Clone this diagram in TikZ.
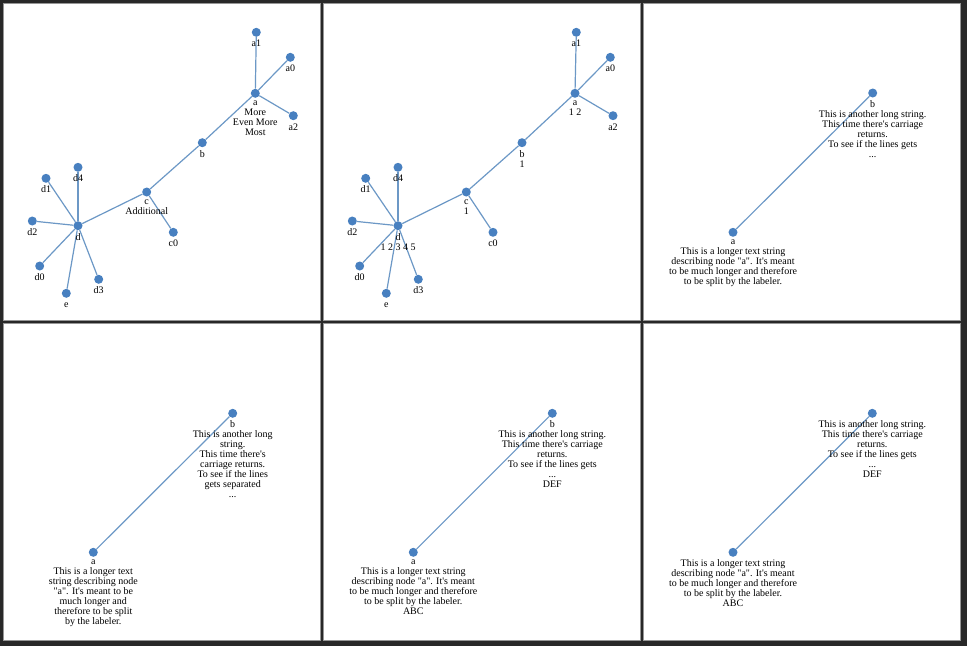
\documentclass[tikz,border=0pt]{standalone}
\usepackage{fontspec}
\setmainfont{Liberation Serif}[Ligatures=TeXOff]
\usepackage{tikz}

\definecolor{frame}{RGB}{40,40,40}
\definecolor{panelgray}{RGB}{150,150,150}
\definecolor{nodeblue}{RGB}{72,128,192}
\definecolor{linkblue}{RGB}{108,152,198}

\newcommand{\lblfont}{\fontsize{10}{10}\selectfont}

\tikzset{
  vert/.style={circle, fill=nodeblue, minimum size=9pt, inner sep=0pt},
  lbl/.style={anchor=north, align=center, font=\lblfont, inner sep=0pt,
    execute at begin node={\rule{0pt}{7pt}}},
  link/.style={draw=linkblue, line width=1.2pt},
  panel/.style={fill=white, draw=panelgray, line width=1pt},
}

\begin{document}
\begin{tikzpicture}[x=1pt, y=-1pt]
    \useasboundingbox [fill=frame] (0, 0) rectangle (967, 646);

    % six panels
    \foreach \i in {0, 1, 2}
      \foreach \j in {0, 1}
        \draw [panel] (3.5 + 320*\i, 3.5 + 320*\j) rectangle (320.5 + 320*\i, 320.5 + 320*\j);

    % panel 1: tree with extra lines on a and c
    \node [vert] (p1a1) at (256.3, 32.3) {};
    \node [vert] (p1a0) at (290.3, 57.3) {};
    \node [vert] (p1a) at (255.3, 93.3) {};
    \node [vert] (p1a2) at (293.3, 115.7) {};
    \node [vert] (p1b) at (202.3, 142.7) {};
    \node [vert] (p1c) at (146.7, 192) {};
    \node [vert] (p1c0) at (173.3, 232.3) {};
    \node [vert] (p1d) at (78, 225.7) {};
    \node [vert] (p1d4) at (78, 167.3) {};
    \node [vert] (p1d1) at (46, 178.3) {};
    \node [vert] (p1d2) at (32.3, 221) {};
    \node [vert] (p1d0) at (39.7, 266) {};
    \node [vert] (p1e) at (66.3, 293.3) {};
    \node [vert] (p1d3) at (98.7, 279.3) {};

    % panel 2: same tree with numbers
    \node [vert] (p2a1) at (576.3, 32.3) {};
    \node [vert] (p2a0) at (610.3, 57.3) {};
    \node [vert] (p2a) at (575, 93.3) {};
    \node [vert] (p2a2) at (613, 115.7) {};
    \node [vert] (p2b) at (522, 142.7) {};
    \node [vert] (p2c) at (466.3, 192) {};
    \node [vert] (p2c0) at (493, 232.3) {};
    \node [vert] (p2d) at (398, 225.7) {};
    \node [vert] (p2d4) at (398, 167.3) {};
    \node [vert] (p2d1) at (365.7, 178.3) {};
    \node [vert] (p2d2) at (352.3, 221) {};
    \node [vert] (p2d0) at (359.7, 266) {};
    \node [vert] (p2e) at (386.3, 293.3) {};
    \node [vert] (p2d3) at (418.3, 279.3) {};

    \foreach \p in {1, 2}
      \foreach \u/\v in {a/a1, a/a0, a/a2, a/b, b/c, c/c0, c/d, d/d0, d/d1, d/d2, d/d3, d/d4, d/e}
        \draw [link] (p\p\u) -- (p\p\v);

    % panels 3 to 6: two nodes with long labels
    \node [vert] (p3a) at (733, 232.3) {};
    \node [vert] (p3b) at (872.7, 93) {};
    \node [vert] (p4a) at (93.3, 552.3) {};
    \node [vert] (p4b) at (232.7, 413.3) {};
    \node [vert] (p5a) at (413.3, 552.3) {};
    \node [vert] (p5b) at (552.3, 413.3) {};
    \node [vert] (p6a) at (733, 552.3) {};
    \node [vert] (p6b) at (872.3, 413.3) {};

    \foreach \p in {3, 4, 5, 6}
      \draw [link] (p\p a) -- (p\p b);

    % labels, panel 1
    \foreach \n in {a1, a0, a2, b, c0, d, d0, d1, d2, d3, d4, e}
      \node [lbl] (p1\n-t) at ([yshift=-2.5pt]p1\n.south) {\n};
    \node [lbl] (p1a-t) at ([yshift=-2.5pt]p1a.south) {a\\More\\Even More\\Most};
    \node [lbl] (p1c-t) at ([yshift=-2.5pt]p1c.south) {c\\Additional};

    % labels, panel 2
    \foreach \n in {a1, a0, a2, c0, d0, d1, d2, d3, d4, e}
      \node [lbl] (p2\n-t) at ([yshift=-2.5pt]p2\n.south) {\n};
    \node [lbl] (p2a-t) at ([yshift=-2.5pt]p2a.south) {a\\1 2};
    \node [lbl] (p2b-t) at ([yshift=-2.5pt]p2b.south) {b\\1};
    \node [lbl] (p2c-t) at ([yshift=-2.5pt]p2c.south) {c\\1};
    \node [lbl] (p2d-t) at ([yshift=-2.5pt]p2d.south) {d\\1 2 3 4 5};

    % labels, panel 3
    \node [lbl] (p3a-t) at ([yshift=-2.5pt]p3a.south) {a\\This is a longer text string\\describing node "a". It's meant\\to be much longer and therefore\\to be split by the labeler.};
    \node [lbl] (p3b-t) at ([yshift=-2.5pt]p3b.south) {b\\This is another long string.\\This time there's carriage\\returns.\\To see if the lines gets\\...};

    % labels, panel 4
    \node [lbl] (p4a-t) at ([yshift=-2.5pt]p4a.south) {a\\This is a longer text\\string describing node\\"a". It's meant to be\\much longer and\\therefore to be split\\by the labeler.};
    \node [lbl] (p4b-t) at ([yshift=-2.5pt]p4b.south) {b\\This is another long\\string.\\This time there's\\carriage returns.\\To see if the lines\\gets separated\\...};

    % labels, panel 5
    \node [lbl] (p5a-t) at ([yshift=-2.5pt]p5a.south) {a\\This is a longer text string\\describing node "a". It's meant\\to be much longer and therefore\\to be split by the labeler.\\ABC};
    \node [lbl] (p5b-t) at ([yshift=-2.5pt]p5b.south) {b\\This is another long string.\\This time there's carriage\\returns.\\To see if the lines gets\\...\\DEF};

    % labels, panel 6
    \node [lbl] (p6a-t) at ([yshift=-2.5pt]p6a.south) {This is a longer text string\\describing node "a". It's meant\\to be much longer and therefore\\to be split by the labeler.\\ABC};
    \node [lbl] (p6b-t) at ([yshift=-2.5pt]p6b.south) {This is another long string.\\This time there's carriage\\returns.\\To see if the lines gets\\...\\DEF};
  \end{tikzpicture}
\end{document}
